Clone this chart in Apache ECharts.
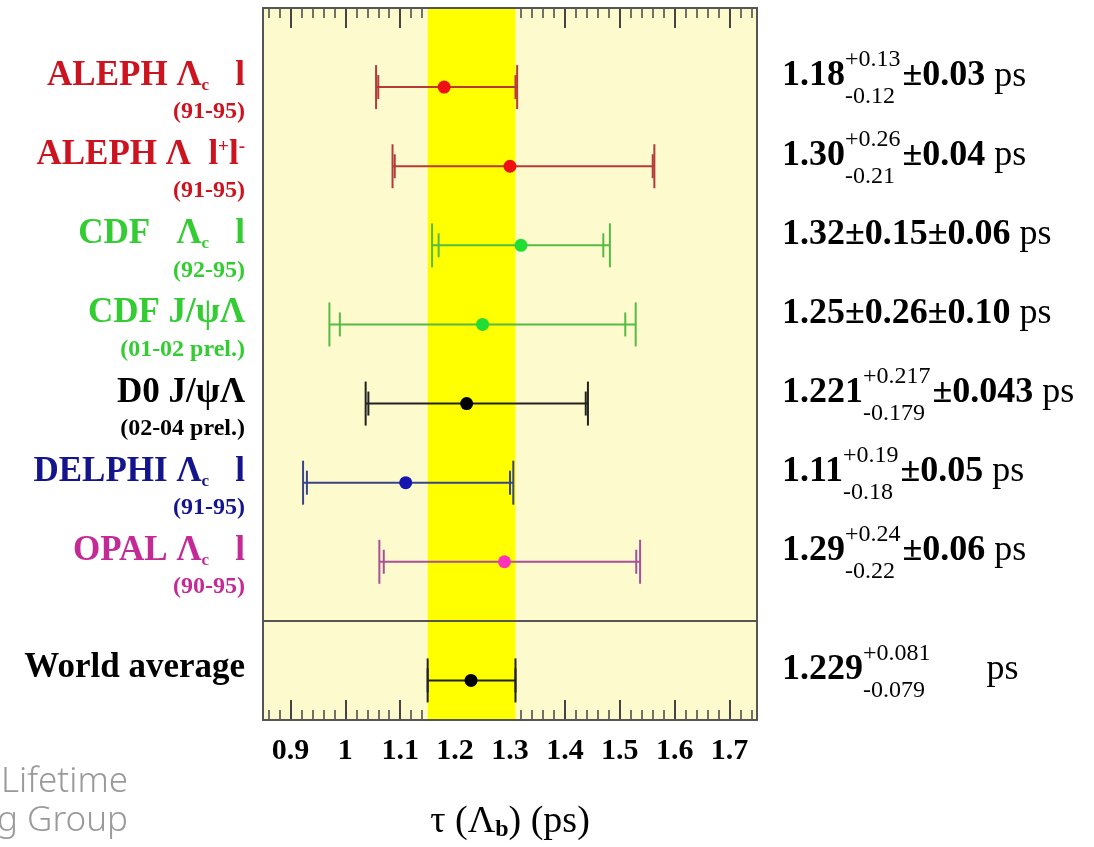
<!DOCTYPE html>
<html><head><meta charset="utf-8">
<script src="https://cdn.jsdelivr.net/npm/echarts@6/dist/echarts.min.js"></script>
<style>html,body{margin:0;padding:0;background:#fff}#c{width:1094px;height:847px}</style>
</head><body><div id="c"></div>
<script>
// ---------- data ----------
const experiments = ['ALEPH Λc l', 'ALEPH Λ l+l-', 'CDF Λc l', 'CDF J/ψΛ', 'D0 J/ψΛ', 'DELPHI Λc l', 'OPAL Λc l', 'World average'];
const labelMain = ['{m|ALEPH Λ}{c|c}{m|   l}', '{m|ALEPH Λ  l}{sp|+}{m|l}{sp|-}', '{m|CDF   Λ}{c|c}{m|   l}', '{m|CDF J/ψΛ}',
                   '{m|D0 J/ψΛ}', '{m|DELPHI Λ}{c|c}{m|   l}', '{m|OPAL Λ}{c|c}{m|   l}', '{m|World average}'];
const labelSub = ['(91-95)', '(91-95)', '(92-95)', '(01-02 prel.)', '(02-04 prel.)', '(91-95)', '(90-95)', ''];
const rowPos = [1, 2, 3, 4, 5, 6, 7, 8.5];
const centre = [1.18, 1.30, 1.32, 1.25, 1.221, 1.11, 1.29, 1.229];
const statLo = [1.06, 1.09, 1.17, 0.99, 1.042, 0.93, 1.07, 1.150];
const statHi = [1.31, 1.56, 1.47, 1.51, 1.438, 1.30, 1.53, 1.310];
const totLo  = [1.056, 1.086, 1.158, 0.971, 1.037, 0.923, 1.062, 1.150];
const totHi  = [1.313, 1.563, 1.482, 1.529, 1.442, 1.306, 1.537, 1.310];
const valueText = ['1.18', '1.30', '1.32', '1.25', '1.221', '1.11', '1.29', '1.229'];
const errUpText = ['+0.13', '+0.26', '', '', '+0.217', '+0.19', '+0.24', '+0.081'];
const errDnText = ['-0.12', '-0.21', '', '', '-0.179', '-0.18', '-0.22', '-0.079'];
const tailText  = ['±0.03', '±0.04', '±0.15±0.06', '±0.26±0.10', '±0.043', '±0.05', '±0.06', ''];
const unitText  = [' ps', ' ps', ' ps', ' ps', ' ps', ' ps', ' ps', '      ps'];
const bandRange = [1.150, 1.310];
const separatorPos = 7.75;
const xMin = 0.85, xMax = 1.75, yMin = 0, yMax = 9;
const axisTitle = 'τ (Λ{b|b}) (ps)';
const watermark = ['B Lifetime', 'Working Group'];

// ---------- styles ----------
const textColors   = ['#cc1420', '#cc1420', '#33cc33', '#33cc33', '#000000', '#14148c', '#c42a96', '#000000'];
const markerColors = ['#ee1111', '#ee1111', '#22dd33', '#22dd33', '#000000', '#1515b0', '#ff33bb', '#000000'];
const lineColors   = ['#b53a3a', '#b53a3a', '#55bb44', '#55bb44', '#222222', '#3a4488', '#a8509c', '#222222'];
const FF = '"Liberation Serif", "Times New Roman", serif';

const cv = document.createElement('canvas').getContext('2d');
function tw(t, font) { cv.font = font; return cv.measureText(t).width; }
const mainFont = 'bold 36px "Liberation Serif"';
const smallFont = '24px "Liberation Serif"';

const chart = echarts.init(document.getElementById('c'), null, {renderer: 'canvas'});

const leftRich = {
  m: {fontSize: 35, fontWeight: 'bold', fontFamily: FF, lineHeight: 36},
  c: {fontSize: 17, fontWeight: 'bold', fontFamily: FF, lineHeight: 10, verticalAlign: 'bottom'},
  sp: {fontSize: 19, fontWeight: 'bold', fontFamily: FF, lineHeight: 18, verticalAlign: 'top'},
  s: {fontSize: 24, fontWeight: 'bold', fontFamily: FF, lineHeight: 36}
};

const leftData = rowPos.map((r, i) => ({
  value: [xMin, r],
  label: {
    show: true, position: 'left', distance: 18, color: textColors[i],
    offset: labelSub[i] ? [0, 7] : [0, -12],
    formatter: labelSub[i] ? labelMain[i] + '\n{s|' + labelSub[i] + '}' : labelMain[i],
    rich: leftRich
  }
}));

const rightData = rowPos.map((r, i) => {
  const base = {
    val: {fontSize: 36, fontWeight: 'bold', fontFamily: FF, lineHeight: 16, color: '#000'},
    tail: {fontSize: 36, fontWeight: 'bold', fontFamily: FF, lineHeight: 16, color: '#000'},
    unit: {fontSize: 36, fontWeight: 'normal', fontFamily: FF, lineHeight: 16, color: '#000'},
    up: {fontSize: 24, fontFamily: FF, lineHeight: 16, color: '#000'},
    dn: {fontSize: 24, fontFamily: FF, lineHeight: 26, color: '#000'}
  };
  let text, off;
  if (errUpText[i]) {
    base.pad = {width: tw(valueText[i], mainFont), lineHeight: 16, fontSize: 10};
    base.pad2 = {width: tw(valueText[i], mainFont), lineHeight: 26, fontSize: 10};
    base.gap = {width: Math.max(tw(errUpText[i], smallFont), tw(errDnText[i], smallFont)) + 2, lineHeight: 16, fontSize: 10};
    text = '{pad| }{up|' + errUpText[i] + '}\n{val|' + valueText[i] + '}{gap| }' +
           (tailText[i] ? '{tail|' + tailText[i] + '}' : '') + '{unit|' + unitText[i] + '}\n{pad2| }{dn|' + errDnText[i] + '}';
    off = -6;
  } else {
    text = '{val|' + valueText[i] + '}{tail|' + tailText[i] + '}{unit|' + unitText[i] + '}';
    off = -11;
  }
  return {
    value: [xMax, r],
    label: {show: true, position: 'right', distance: 25, offset: [0, off], formatter: text, rich: base}
  };
});

const errData = rowPos.map((r, i) => [r, centre[i], totLo[i], totHi[i], statLo[i], statHi[i]]);

function renderErr(params, api) {
  const i = params.dataIndex;
  const y = api.value(0);
  const pc = api.coord([api.value(1), y]);
  const pLo = api.coord([api.value(2), y]);
  const pHi = api.coord([api.value(3), y]);
  const sLo = api.coord([api.value(4), y]);
  const sHi = api.coord([api.value(5), y]);
  const ls = {stroke: lineColors[i], lineWidth: 2};
  const capO = 22, capI = 12;
  const vline = (p, h) => ({type: 'line', shape: {x1: p[0], y1: p[1] - h, x2: p[0], y2: p[1] + h}, style: ls});
  return {type: 'group', children: [
    {type: 'line', shape: {x1: pLo[0], y1: pLo[1], x2: pHi[0], y2: pHi[1]}, style: ls},
    vline(pLo, capO), vline(pHi, capO), vline(sLo, capI), vline(sHi, capI),
    {type: 'circle', shape: {cx: pc[0], cy: pc[1], r: 6.5}, style: {fill: markerColors[i]}}
  ]};
}

function renderBand(params, api) {
  const p1 = api.coord([api.value(0), yMin]);
  const p2 = api.coord([api.value(1), yMax]);
  return {type: 'rect', shape: {x: p1[0], y: Math.min(p1[1], p2[1]), width: p2[0] - p1[0], height: Math.abs(p2[1] - p1[1])},
          style: {fill: '#ffff00'}};
}

const tickCol = '#444';
function hiddenAxis() {
  return {axisLine: {show: false, onZero: false}, axisLabel: {show: false}, splitLine: {show: false}, axisTick: {show: false}};
}
function tickAxis(pos, major, z) {
  return Object.assign(hiddenAxis(), {
    type: 'value', position: pos, min: xMin, max: xMax, splitNumber: major ? 9 : 45, z: z,
    axisTick: {show: true, inside: true, length: major ? 20 : 10, lineStyle: {color: tickCol, width: major ? 2 : 1.5}}
  });
}
function frameAxis(pos, extra) {
  return Object.assign(hiddenAxis(), {type: 'value', position: pos, z: 10,
    axisLine: {show: true, onZero: false, lineStyle: {color: '#555', width: 2}}}, extra);
}

const xAxes = [
  Object.assign(tickAxis('bottom', true, 0), {
    axisLabel: {show: true, margin: 16, fontFamily: FF, fontSize: 30, fontWeight: 'bold', color: '#000',
                showMinLabel: false, showMaxLabel: false},
    name: axisTitle, nameLocation: 'middle', nameGap: 82,
    nameTextStyle: {fontFamily: FF, fontSize: 38, color: '#000', lineHeight: 40,
                    rich: {b: {fontFamily: FF, fontSize: 24, fontWeight: 'bold', lineHeight: 14, verticalAlign: 'bottom', color: '#000'}}}
  }),
  tickAxis('bottom', false, 0),
  tickAxis('top', true, 0),
  tickAxis('top', false, 0),
  frameAxis('bottom', {min: xMin, max: xMax}),
  frameAxis('top', {min: xMin, max: xMax})
];
const yAxes = [
  frameAxis('left', {min: yMin, max: yMax, inverse: true}),
  frameAxis('right', {min: yMin, max: yMax, inverse: true})
];

chart.setOption({
  animation: false,
  backgroundColor: '#ffffff',
  textStyle: {fontFamily: FF},
  grid: {left: 263, right: 337, top: 8, bottom: 127, show: true, backgroundColor: '#fdfacd', borderWidth: 0},
  xAxis: xAxes,
  yAxis: yAxes,
  graphic: [
    {type: 'text', x: 128, y: 782, silent: true,
     style: {text: watermark[0], textAlign: 'right', textVerticalAlign: 'middle', font: '300 35px "Noto Sans"', fill: '#9a9a9a'}},
    {type: 'text', x: 128, y: 821, silent: true,
     style: {text: watermark[1], textAlign: 'right', textVerticalAlign: 'middle', font: '300 35px "Noto Sans"', fill: '#9a9a9a'}}
  ],
  series: [
    {type: 'custom', name: 'band', silent: true, z: 1, xAxisIndex: 0, yAxisIndex: 0,
     renderItem: renderBand, encode: {x: [0, 1]}, data: [bandRange]},
    {type: 'custom', name: 'measurements', silent: true, z: 3, xAxisIndex: 0, yAxisIndex: 0,
     renderItem: renderErr, encode: {x: [1, 2, 3, 4, 5], y: 0}, data: errData,
     markLine: {silent: true, symbol: 'none', label: {show: false}, animation: false,
                lineStyle: {color: '#555', width: 2, type: 'solid'}, data: [{yAxis: separatorPos}]}},
    {type: 'scatter', name: 'labels', silent: true, z: 4, symbolSize: 0, itemStyle: {color: 'transparent', opacity: 1},
     emphasis: {disabled: true}, data: leftData},
    {type: 'scatter', name: 'values', silent: true, z: 4, symbolSize: 0, itemStyle: {color: 'transparent', opacity: 1},
     emphasis: {disabled: true}, data: rightData}
  ]
});
</script></body></html>
